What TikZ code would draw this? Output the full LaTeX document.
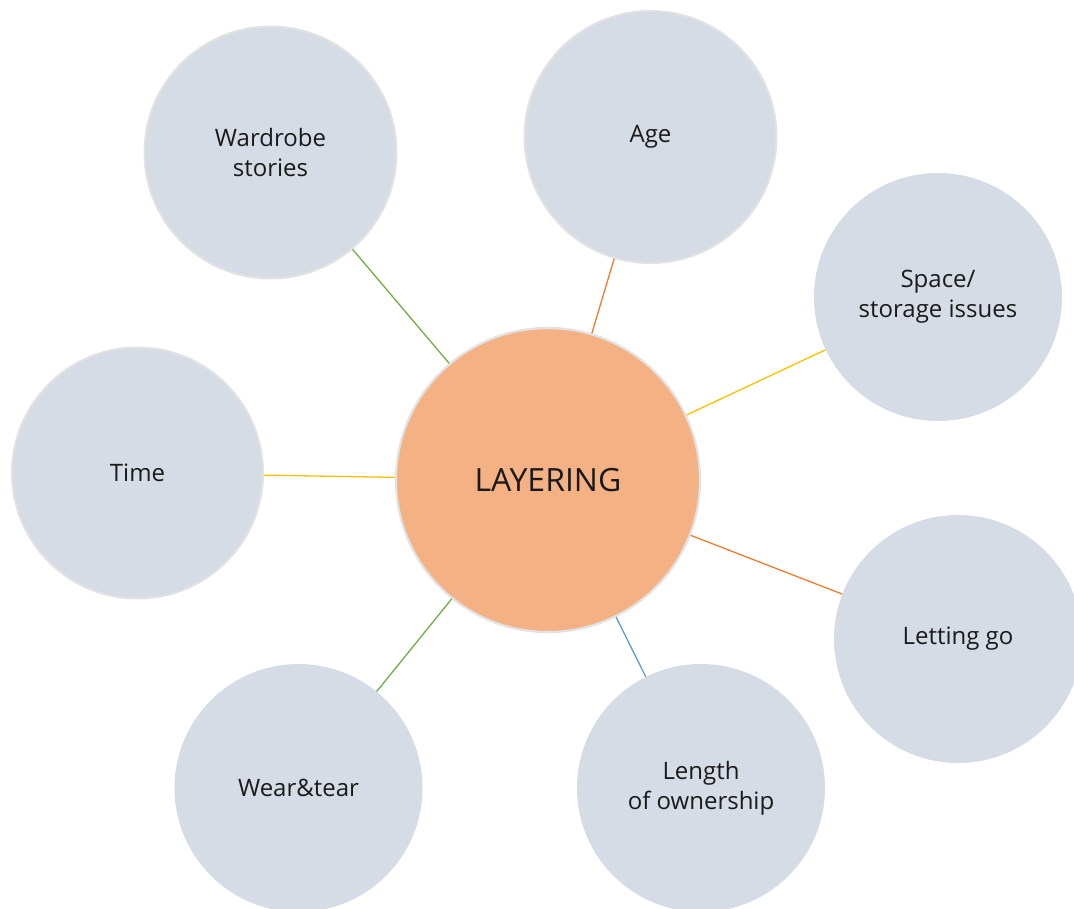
\documentclass[tikz,border=0pt]{standalone}
\usepackage{fontspec}
\setmainfont{Open Sans}
\definecolor{bubble}{HTML}{D6DCE5}
\definecolor{hub}{HTML}{F4B183}
\definecolor{rim}{HTML}{E2E2E2}
\definecolor{lgreen}{HTML}{70AD47}
\definecolor{lorange}{HTML}{ED7D31}
\definecolor{lgold}{HTML}{FFC000}
\definecolor{lblue}{HTML}{5B9BD5}
\definecolor{txt}{HTML}{1A1A1A}
\begin{document}
\begin{tikzpicture}[x=1pt,y=-1pt,
  bub/.style={circle,fill=bubble,inner sep=0pt,minimum size=248pt,text=txt,
    font=\fontsize{24}{30}\selectfont,align=center},
  rimmed/.style={draw=rim,line width=2pt},
  hubnode/.style={circle,fill=hub,draw=rim,line width=2.2pt,inner sep=0pt,
    minimum size=304pt,text=txt,font=\fontsize{32}{38}\selectfont},
  link/.style={line width=1.3pt}]
\useasboundingbox (0,0) rectangle (1074,909);
\clip (0,0) rectangle (1074,909);
\node[hubnode] (hub) at (548,480) {LAYERING};
\node[bub,rimmed,minimum size=252pt] (ward) at (270.5,152.5) {Wardrobe\\stories};
\node[bub,rimmed,minimum size=252pt] (age) at (650.5,137) {Age};
\node[bub] (space) at (938,297) {Space/\\storage issues};
\node[bub,rimmed,minimum size=251pt] (time) at (137.5,473) {Time};
\node[bub] (let) at (958,639) {Letting go};
\node[bub] (wear) at (298.5,788) {Wear\&tear};
\node[bub] (len) at (701,788) {Length\\of ownership};
\draw[link,lgreen] (ward) -- (hub);
\draw[link,lorange] (age) -- (hub);
\draw[link,lgold] (space) -- (hub);
\draw[link,lgold] (time) -- (hub);
\draw[link,lorange] (let) -- (hub);
\draw[link,lblue] (len) -- (hub);
\draw[link,lgreen] (wear) -- (hub);
\end{tikzpicture}
\end{document}
